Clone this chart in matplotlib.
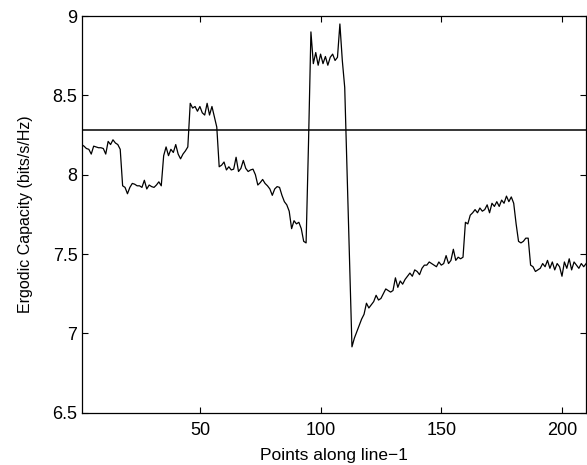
import numpy as np
import matplotlib
matplotlib.use("Agg")
import matplotlib.pyplot as plt

# capacity, one value per point (1..210)
cap_1_40 = [8.19, 8.18, 8.165, 8.16, 8.13, 8.18, 8.175, 8.17, 8.17, 8.165,
            8.13, 8.21, 8.19, 8.22, 8.20, 8.19, 8.16, 7.93, 7.92, 7.88,
            7.92, 7.945, 7.94, 7.93, 7.93, 7.92, 7.965, 7.91, 7.935, 7.925,
            7.92, 7.935, 7.955, 7.93, 8.12, 8.175, 8.12, 8.16, 8.14, 8.19]
cap_41_80 = [8.13, 8.10, 8.13, 8.15, 8.175, 8.45, 8.42, 8.43, 8.40, 8.43,
             8.39, 8.376, 8.45, 8.376, 8.43, 8.365, 8.30, 8.05, 8.06, 8.08,
             8.03, 8.05, 8.03, 8.035, 8.11, 8.02, 8.04, 8.09, 8.04, 8.02,
             8.03, 8.035, 8.00, 7.935, 7.95, 7.97, 7.945, 7.93, 7.91, 7.87]
cap_81_120 = [7.91, 7.925, 7.92, 7.87, 7.83, 7.81, 7.77, 7.66, 7.71, 7.69,
              7.70, 7.66, 7.58, 7.57, 8.20, 8.90, 8.70, 8.77, 8.69, 8.76,
              8.70, 8.745, 8.69, 8.74, 8.76, 8.72, 8.74, 8.95, 8.72, 8.55,
              8.00, 7.45, 6.915, 6.97, 7.01, 7.05, 7.09, 7.12, 7.19, 7.16]
cap_121_160 = [7.18, 7.20, 7.24, 7.21, 7.22, 7.25, 7.28, 7.27, 7.26, 7.27,
               7.35, 7.29, 7.33, 7.31, 7.34, 7.36, 7.38, 7.36, 7.40, 7.39,
               7.37, 7.41, 7.43, 7.43, 7.45, 7.44, 7.43, 7.42, 7.45, 7.43,
               7.44, 7.49, 7.44, 7.46, 7.53, 7.46, 7.48, 7.47, 7.48, 7.70]
cap_161_210 = [7.69, 7.745, 7.76, 7.78, 7.76, 7.79, 7.77, 7.78, 7.81, 7.76,
               7.82, 7.80, 7.83, 7.80, 7.84, 7.82, 7.865, 7.83, 7.86, 7.82,
               7.69, 7.58, 7.57, 7.58, 7.60, 7.60, 7.43, 7.42, 7.39, 7.40,
               7.41, 7.44, 7.42, 7.46, 7.41, 7.45, 7.40, 7.44, 7.42, 7.36,
               7.45, 7.41, 7.47, 7.40, 7.45, 7.43, 7.41, 7.44, 7.42, 7.44]
mean_capacity = 8.28

capacity = np.array(cap_1_40 + cap_41_80 + cap_81_120 + cap_121_160 + cap_161_210)
points = np.arange(1, len(capacity) + 1)

plt.rcParams['font.family'] = ['Liberation Sans', 'DejaVu Sans']

fig = plt.figure(figsize=(5.87, 4.65), dpi=100)
ax = fig.add_axes([0.139, 0.1125, 0.8595, 0.853])

ax.plot(points, capacity, color='black', linewidth=0.9)
ax.axhline(mean_capacity, color='black', linewidth=1.1)

ax.set_xlim(1, len(capacity))
ax.set_ylim(6.5, 9)
ax.set_xticks([50, 100, 150, 200])
ax.set_yticks([6.5, 7, 7.5, 8, 8.5, 9])
ax.set_yticklabels(['6.5', '7', '7.5', '8', '8.5', '9'])
ax.tick_params(direction='in', top=True, right=True, length=4, width=0.8,
               labelsize=13)
ax.tick_params(axis='x', pad=7)
ax.tick_params(axis='y', pad=3)
for s in ax.spines.values():
    s.set_linewidth(0.9)

ax.set_xlabel('Points along line\u22121', fontsize=12.5, labelpad=6)
ax.set_ylabel('Ergodic Capacity (bits/s/Hz)', fontsize=11.5, labelpad=14)

fig.savefig('out.png', dpi=100)
